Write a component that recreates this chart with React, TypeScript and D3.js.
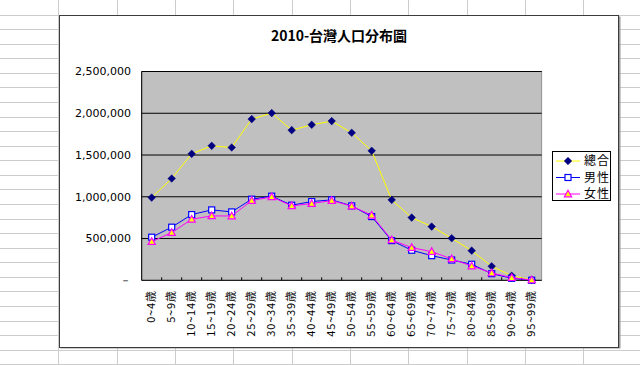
import React from "react";
import * as d3 from "d3";

const categories = [
  "0~4歳", "5~9歳", "10~14歳", "15~19歳", "20~24歳", "25~29歳", "30~34歳",
  "35~39歳", "40~44歳", "45~49歳", "50~54歳", "55~59歳", "60~64歳", "65~69歳",
  "70~74歳", "75~79歳", "80~84歳", "85~89歳", "90~94歳", "95~99歳"
];

const total = [
  990000, 1218000, 1514000, 1610000, 1590000, 1930000, 2002000, 1798000, 1862000, 1906000,
  1766000, 1550000, 963000, 751000, 643000, 504000, 355000, 168000, 55000, 5000
];
const male = [
  516000, 636000, 787000, 843000, 819000, 971000, 1007000, 899000, 943000, 963000,
  891000, 763000, 475000, 360000, 295000, 243000, 192000, 79000, 24000, 1000
];
const female = [
  463000, 571000, 731000, 771000, 770000, 955000, 999000, 891000, 919000, 955000,
  888000, 779000, 483000, 391000, 343000, 256000, 171000, 88000, 31000, 4000
];

const yTicks = [0, 500000, 1000000, 1500000, 2000000, 2500000];
const seriesNames = ["總合", "男性", "女性"];

const W = 640, H = 365;
const plot = { left: 141.7, right: 541.7, top: 71.5, bottom: 280.3 };
const colW = 58.33, rowH = 14.57;

const font = "'DejaVu Sans', sans-serif";
const cjk = "'Noto Sans CJK JP', sans-serif";

function Marker({ kind, x, y }: { kind: number; x: number; y: number }) {
  if (kind === 0) {
    const s = 3.8;
    return <path d={`M${x},${y - s}L${x + s},${y}L${x},${y + s}L${x - s},${y}Z`} fill="#000080" stroke="#000080" strokeWidth={0.5} />;
  }
  if (kind === 1) {
    return <rect x={x - 3} y={y - 3} width={6} height={6} fill="#ffffff" stroke="#0000ff" strokeWidth={1.2} />;
  }
  return <path d={`M${x},${y - 3.8}L${x + 3.6},${y + 2.8}L${x - 3.6},${y + 2.8}Z`} fill="#ffff00" stroke="#ff00ff" strokeWidth={1.2} />;
}

export default function App() {
  const x = d3.scaleBand().domain(categories).range([plot.left, plot.right]);
  const y = d3.scaleLinear().domain([0, 2500000]).range([plot.bottom, plot.top]);
  const cx = (c: string) => (x(c) as number) + x.bandwidth() / 2;

  const fmt = d3.format(",");
  const line = d3.line<number>().x((d, i) => cx(categories[i])).y(d => y(d));

  const series = [
    { data: total, color: "#ffff00", kind: 0 },
    { data: male, color: "#0000ff", kind: 1 },
    { data: female, color: "#ff00ff", kind: 2 }
  ];

  const cols = d3.range(1, 11).map(k => k * colW);
  const rows = d3.range(1, 26).map(k => k * rowH);

  return (
    <div style={{ position: "fixed", left: 0, top: 0 }}>
      <svg width={W} height={H} style={{ display: "block" }}>
        <rect width={W} height={H} fill="#ffffff" />
        {cols.map((c, i) => (
          <line key={"c" + i} x1={Math.round(c) + 0.5} x2={Math.round(c) + 0.5} y1={0} y2={H} stroke="#cccccc" />
        ))}
        {rows.map((r, i) => (
          <line key={"r" + i} y1={Math.round(r) + 0.5} y2={Math.round(r) + 0.5} x1={0} x2={W} stroke="#cccccc" />
        ))}
        <rect x={60.5} y={16.5} width={560} height={332} fill="#9a9a9a" />
        <rect x={59.5} y={15.5} width={559} height={332} fill="#ffffff" stroke="#3c3c3c" />

        <text x={339} y={41} textAnchor="middle" fontFamily={cjk} fontSize={14} fontWeight="bold">2010-台灣人口分布圖</text>

        <rect x={plot.left} y={plot.top} width={plot.right - plot.left} height={plot.bottom - plot.top} fill="#c0c0c0" stroke="#808080" strokeWidth={0.8} />
        {yTicks.slice(1).map(t => (
          <line key={t} x1={plot.left} x2={plot.right} y1={y(t)} y2={y(t)} stroke="#000000" strokeWidth={1} />
        ))}
        <line x1={plot.left} x2={plot.left} y1={plot.top} y2={plot.bottom} stroke="#000000" />
        <line x1={plot.left} x2={plot.right} y1={plot.bottom} y2={plot.bottom} stroke="#000000" />
        {categories.slice(1).map(c => (
          <line key={c} x1={x(c) as number} x2={x(c) as number} y1={plot.bottom} y2={plot.bottom - 3} stroke="#000000" />
        ))}

        {yTicks.map(t => (
          <text key={t} x={131} y={y(t)} dy="0.35em" textAnchor="end" fontFamily={font} fontSize={11} fill="#000000">
            {t === 0 ? "－" : fmt(t)}
          </text>
        ))}

        {categories.map(c => (
          <text key={c} transform={`translate(${cx(c) - 1},${plot.bottom + 10}) rotate(-90)`} dy="0.35em" textAnchor="end" fontFamily={cjk} fontSize={11} letterSpacing={0.8} fill="#000000">
            {c}
          </text>
        ))}

        {series.map((s, si) => (
          <g key={si}>
            <path d={line(s.data) || ""} fill="none" stroke={s.color} strokeWidth={1} />
            {s.data.map((d, i) => (
              <Marker key={i} kind={s.kind} x={cx(categories[i])} y={y(d)} />
            ))}
          </g>
        ))}

        <rect x={552.5} y={151.5} width={58} height={49} fill="#ffffff" stroke="#000000" />
        {seriesNames.map((n, i) => {
          const ly = 161 + i * 16.5;
          return (
            <g key={n}>
              <line x1={556} x2={580} y1={ly} y2={ly} stroke={series[i].color} strokeWidth={1} />
              <Marker kind={i} x={568} y={ly} />
              <text x={584} y={ly} dy="0.35em" fontFamily={cjk} fontSize={12} letterSpacing={1} fill="#000000">{n}</text>
            </g>
          );
        })}
      </svg>
    </div>
  );
}
